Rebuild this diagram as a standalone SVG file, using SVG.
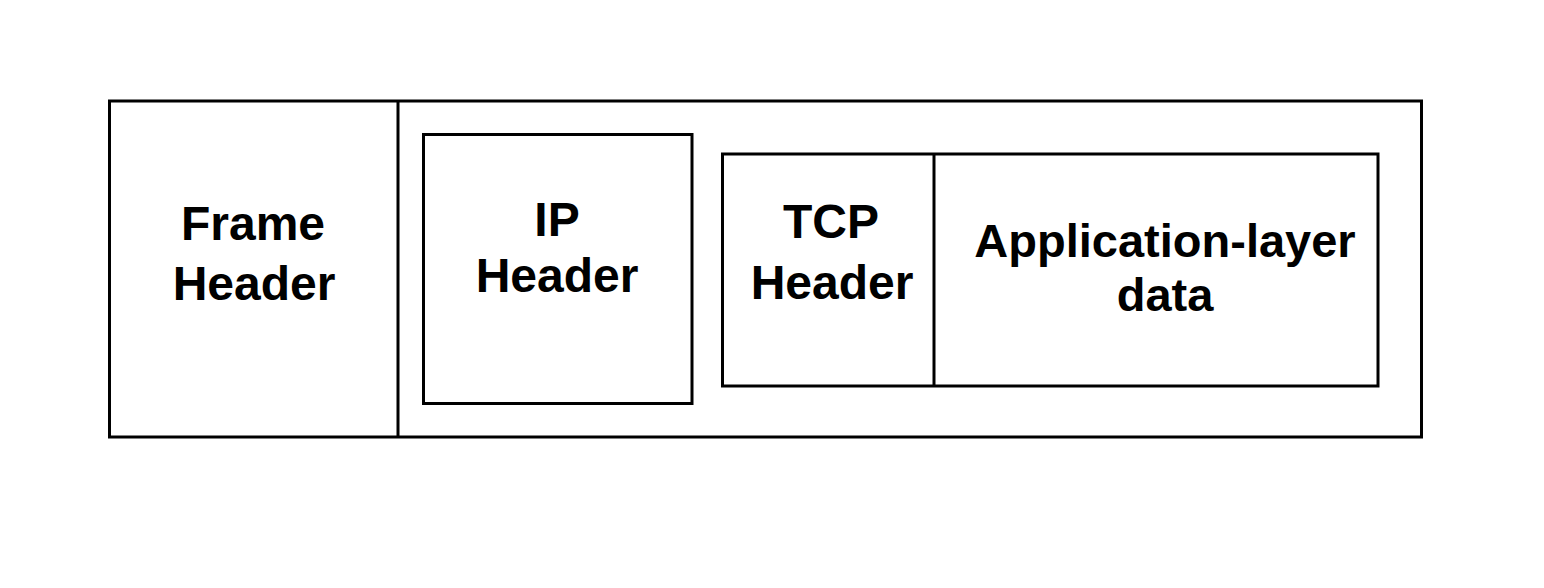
<svg xmlns="http://www.w3.org/2000/svg" width="1544" height="588" viewBox="0 0 1544 588">
<style>
.box{fill:none;stroke:#000;stroke-width:3}
.lbl{font-family:"Liberation Sans",Arial,Helvetica,sans-serif;font-weight:bold;font-size:48px;fill:#000;text-anchor:middle}
.sm{font-size:47px}
</style>
<rect width="1544" height="588" fill="#fff"/>
<g id="frame">
<rect class="box" x="109.5" y="101" width="1312" height="336"/>
</g>
<g id="frame-header">
<line class="box" x1="398" y1="101" x2="398" y2="437"/>
<text class="lbl" x="253" y="240">Frame</text>
<text class="lbl" x="254" y="300">Header</text>
</g>
<g id="ip-header">
<rect class="box" x="423.5" y="134.5" width="268.5" height="269"/>
<text class="lbl" x="557" y="236">IP</text>
<text class="lbl" x="557" y="292">Header</text>
</g>
<g id="tcp-segment">
<rect class="box" x="722.5" y="154" width="655.5" height="232"/>
</g>
<g id="tcp-header">
<line class="box" x1="934" y1="154" x2="934" y2="386"/>
<text class="lbl" x="831" y="238">TCP</text>
<text class="lbl" x="832" y="299">Header</text>
</g>
<g id="app-data">
<text class="lbl sm" x="1165" y="257">Application-layer</text>
<text class="lbl sm" x="1165" y="311">data</text>
</g>
<g id="connectors"></g>
</svg>
